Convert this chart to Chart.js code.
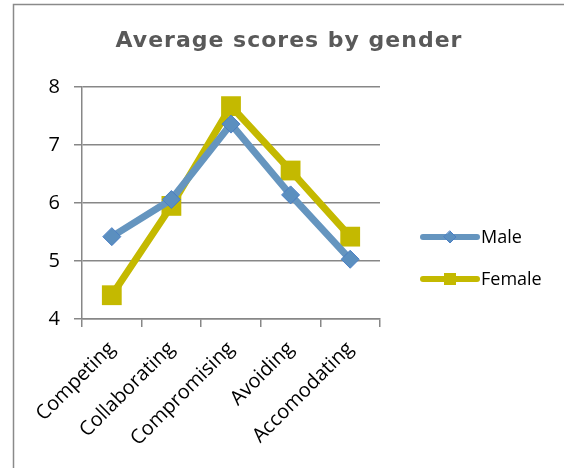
<!DOCTYPE html>
<html>
<head>
<meta charset="utf-8">
<script src="https://cdn.jsdelivr.net/npm/chart.js@4"></script>
<style>
  html, body { margin: 0; padding: 0; background: #fff; }
  #wrap { width: 564px; height: 468px; position: relative; }
</style>
</head>
<body>
<div id="wrap"><canvas id="scoreChart" width="564" height="468"></canvas></div>
<script>
const categories = ['Competing', 'Collaborating', 'Compromising', 'Avoiding', 'Accomodating'];
const maleScores = [5.42, 6.06, 7.36, 6.14, 5.03];
const femaleScores = [4.41, 5.95, 7.67, 6.56, 5.42];
const chartTitle = 'Average scores by gender';

const gridColor = '#878787';
const labelFont = '"Open Sans", "Liberation Sans", sans-serif';

// frame, title and a line+marker legend drawn straight on the canvas
const decorations = {
  id: 'decorations',
  beforeDraw(chart) {
    const c = chart.ctx;
    c.save();
    c.strokeStyle = '#8a8a8a';
    c.lineWidth = 1.5;
    c.beginPath();
    c.moveTo(13.5, 600);
    c.lineTo(13.5, 4.5);
    c.lineTo(600, 4.5);
    c.stroke();

    c.fillStyle = '#595959';
    c.font = 'bold 22px "DejaVu Sans", Verdana, sans-serif';
    c.letterSpacing = '1px';
    c.textAlign = 'center';
    c.textBaseline = 'middle';
    c.fillText(chartTitle, 289, 41);
    c.restore();
  },
  afterDraw(chart) {
    const c = chart.ctx;
    c.save();
    chart.data.datasets.forEach((ds, i) => {
      const y = 237 + i * 42;
      c.strokeStyle = ds.borderColor;
      c.lineWidth = 6;
      c.lineCap = 'round';
      c.beginPath();
      c.moveTo(423, y);
      c.lineTo(477, y);
      c.stroke();
      c.fillStyle = ds.pointBackgroundColor;
      c.strokeStyle = ds.pointBorderColor;
      c.lineWidth = 1;
      if (ds.pointStyle === 'rectRot') {
        c.beginPath();
        c.moveTo(450, y - 6);
        c.lineTo(456, y);
        c.lineTo(450, y + 6);
        c.lineTo(444, y);
        c.closePath();
        c.fill();
        c.stroke();
      } else {
        c.fillRect(444, y - 6, 12, 12);
      }
      c.fillStyle = '#000';
      c.font = '18px ' + labelFont;
      c.textAlign = 'left';
      c.textBaseline = 'middle';
      c.fillText(ds.label, 481, y + 1);
    });
    c.restore();
  }
};

const ctx = document.getElementById('scoreChart').getContext('2d');
const chart = new Chart(ctx, {
  type: 'line',
  data: {
    labels: categories,
    datasets: [{
      label: 'Male',
      data: maleScores,
      borderColor: '#6595bf',
      borderWidth: 7,
      pointStyle: 'rectRot',
      pointRadius: 9,
      pointBackgroundColor: '#5b8fbf',
      pointBorderColor: '#4a7ec4',
      pointBorderWidth: 1,
      tension: 0
    }, {
      label: 'Female',
      data: femaleScores,
      borderColor: '#c4b900',
      borderWidth: 7,
      pointStyle: 'rect',
      pointRadius: 14,
      pointBackgroundColor: '#c4b900',
      pointBorderColor: '#c4b900',
      pointBorderWidth: 0,
      tension: 0
    }]
  },
  options: {
    responsive: false,
    animation: false,
    layout: { padding: { left: 20, right: 184, top: 87, bottom: 0 } },
    plugins: {
      legend: { display: false },
      title: { display: false },
      tooltip: { enabled: false }
    },
    scales: {
      x: {
        offset: true,
        afterFit(scale) { scale.height = 149; },
        grid: {
          offset: true,
          drawOnChartArea: false,
          drawTicks: true,
          tickLength: 8,
          color: gridColor,
          lineWidth: 1.5
        },
        border: { color: gridColor, width: 1.5 },
        ticks: {
          minRotation: 45,
          maxRotation: 45,
          padding: 10,
          color: '#000',
          font: { family: labelFont, size: 20 }
        }
      },
      y: {
        min: 4,
        max: 8,
        afterFit(scale) { scale.width = 62; },
        grid: {
          color: gridColor,
          lineWidth: 1.5,
          tickLength: 8
        },
        border: { color: gridColor, width: 1.5 },
        ticks: {
          stepSize: 1,
          padding: 14,
          color: '#000',
          font: { family: labelFont, size: 20 }
        }
      }
    }
  },
  plugins: [decorations]
});
</script>
</body>
</html>
